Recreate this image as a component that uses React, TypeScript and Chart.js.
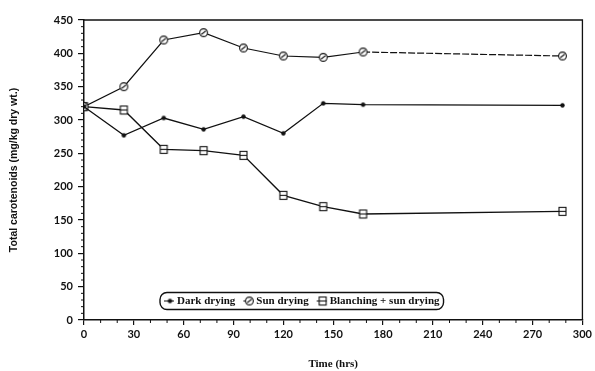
import React, { useEffect, useRef } from "react";
import { Chart, registerables } from "chart.js";

Chart.register(...registerables);

const hours = [0, 24, 48, 72, 96, 120, 144, 168, 288];
const darkDrying = [320, 277, 303, 286, 305, 280, 325, 323, 322];
const sunDrying = [320, 350, 420, 431, 408, 396, 394, 402, 396];
const blanchingSun = [320, 315, 256, 254, 247, 187, 170, 159, 163];
const seriesLabels = ["Dark drying", "Sun drying", "Blanching + sun drying"];
const xTicks = [0, 30, 60, 90, 120, 150, 180, 210, 240, 270, 300];
const yTicks = [0, 50, 100, 150, 200, 250, 300, 350, 400, 450];

function makeMarker(kind: string): HTMLCanvasElement {
  const c = document.createElement("canvas");
  c.width = 11;
  c.height = 11;
  const g = c.getContext("2d")!;
  g.strokeStyle = "#111";
  g.fillStyle = "#fff";
  g.lineWidth = 1.1;
  if (kind === "circle") {
    g.beginPath();
    g.arc(5.5, 5.5, 3.9, 0, Math.PI * 2);
    g.fill();
    g.stroke();
    g.beginPath();
    g.moveTo(3.3, 7.2);
    g.lineTo(7.7, 3.8);
    g.stroke();
  } else if (kind === "square") {
    g.fillRect(2, 1.5, 7, 8);
    g.strokeRect(2, 1.5, 7, 8);
    g.beginPath();
    g.moveTo(2, 5.5);
    g.lineTo(9, 5.5);
    g.stroke();
  } else {
    g.fillStyle = "#111";
    g.beginPath();
    g.arc(5.5, 5.5, 2.2, 0, Math.PI * 2);
    g.fill();
  }
  return c;
}

export default function App() {
  const ref = useRef<HTMLCanvasElement | null>(null);

  useEffect(() => {
    if (!ref.current) return;
    const markers = [makeMarker("dot"), makeMarker("circle"), makeMarker("square")];

    const decor = {
      id: "decor",
      afterDraw(chart: any) {
        const ctx = chart.ctx;
        const a = chart.chartArea;
        const xs = chart.scales.x;
        const ys = chart.scales.y;
        ctx.save();
        ctx.strokeStyle = "#111";
        ctx.lineWidth = 1.3;
        // frame top/right
        ctx.beginPath();
        ctx.moveTo(a.left, a.top);
        ctx.lineTo(a.right, a.top);
        ctx.lineTo(a.right, a.bottom);
        ctx.stroke();
        // minor ticks
        ctx.lineWidth = 1;
        for (let v = 0; v <= 300; v += 10) {
          if (v % 30 === 0) continue;
          const px = xs.getPixelForValue(v);
          ctx.beginPath();
          ctx.moveTo(px, a.bottom);
          ctx.lineTo(px, a.bottom + 3);
          ctx.stroke();
        }
        for (let v = 0; v <= 450; v += 10) {
          if (v % 50 === 0) continue;
          const py = ys.getPixelForValue(v);
          ctx.beginPath();
          ctx.moveTo(a.left, py);
          ctx.lineTo(a.left - 3, py);
          ctx.stroke();
        }
        // legend
        ctx.font = "bold 11px 'Liberation Serif'";
        ctx.textBaseline = "middle";
        const cy = a.bottom - 19;
        let x = a.left + 82;
        const boxLeft = x - 6;
        const items = chart.data.datasets.map((d: any) => d.label);
        const positions: number[] = [];
        items.forEach((t: string, i: number) => {
          positions.push(x);
          x += 12 + ctx.measureText(t).width + (i < items.length - 1 ? 9 : 0);
        });
        const boxRight = x + 3;
        ctx.lineWidth = 1.4;
        ctx.beginPath();
        (ctx as any).roundRect(boxLeft, cy - 8.5, boxRight - boxLeft, 17, 7);
        ctx.fillStyle = "#fff";
        ctx.fill();
        ctx.stroke();
        items.forEach((t: string, i: number) => {
          const px = positions[i];
          ctx.lineWidth = 1;
          ctx.beginPath();
          ctx.moveTo(px - 2, cy);
          ctx.lineTo(px + 8, cy);
          ctx.stroke();
          const m = markers[i];
          ctx.drawImage(m, px + 4 - m.width / 2, cy - m.height / 2);
          ctx.fillStyle = "#111";
          ctx.fillText(t, px + 11, cy + 0.5);
        });
        ctx.restore();
      },
    };

    const mk = (data: number[]) => hours.map((h, i) => ({ x: h, y: data[i] }));

    const chart = new Chart(ref.current, {
      type: "line",
      data: {
        datasets: [
          {
            label: seriesLabels[0],
            data: mk(darkDrying),
            borderColor: "#111",
            borderWidth: 1.3,
            pointStyle: markers[0] as any,
            pointRadius: 4,
            tension: 0,
          },
          {
            label: seriesLabels[1],
            data: mk(sunDrying),
            borderColor: "#111",
            borderWidth: 1.2,
            pointStyle: markers[1] as any,
            pointRadius: 5,
            tension: 0,
            segment: {
              borderDash: (c: any) => (c.p0DataIndex === hours.length - 2 ? [7, 2] : undefined),
            },
          },
          {
            label: seriesLabels[2],
            data: mk(blanchingSun),
            borderColor: "#111",
            borderWidth: 1.3,
            pointStyle: markers[2] as any,
            pointRadius: 5,
            tension: 0,
          },
        ],
      },
      options: {
        animation: false,
        responsive: false,
        maintainAspectRatio: false,
        layout: { padding: { top: 20, right: 11, left: 0, bottom: 0 } },
        plugins: { legend: { display: false }, tooltip: { enabled: false } },
        scales: {
          x: {
            type: "linear",
            min: 0,
            max: 300,
            afterFit: (s: any) => {
              s.height = 51;
            },
            afterBuildTicks: (s: any) => {
              s.ticks = xTicks.map((v) => ({ value: v }));
            },
            border: { display: true, color: "#111", width: 1.5 },
            grid: { drawOnChartArea: false, tickLength: 5, color: "#111", lineWidth: 1.2 },
            ticks: {
              color: "#111",
              padding: 3,
              maxRotation: 0,
              autoSkip: false,
              font: { family: "Lato", weight: "bold", size: 11 },
            },
            title: {
              display: true,
              text: "Time (hrs)",
              color: "#111",
              font: { family: "'Liberation Serif'", weight: "bold", size: 11 },
              padding: { top: 0, bottom: 0 },
            },
          },
          y: {
            type: "linear",
            min: 0,
            max: 450,
            afterFit: (s: any) => {
              s.width = 84;
            },
            afterBuildTicks: (s: any) => {
              s.ticks = yTicks.map((v) => ({ value: v }));
            },
            border: { display: true, color: "#111", width: 1.5 },
            grid: { drawOnChartArea: false, tickLength: 6, color: "#111", lineWidth: 1.2 },
            ticks: {
              color: "#111",
              padding: 5,
              autoSkip: false,
              font: { family: "Lato", weight: "bold", size: 11 },
            },
            title: {
              display: true,
              text: "Total carotenoids (mg/kg dry wt.)",
              color: "#111",
              font: { family: "'Liberation Sans'", weight: "bold", size: 10.5 },
              padding: { top: 8, bottom: 0 },
            },
          },
        },
      },
      plugins: [decor],
    });
    return () => chart.destroy();
  }, []);

  return (
    <div style={{ position: "absolute", left: 0, top: 0, width: 595, height: 371, background: "#fff" }}>
      <canvas ref={ref} width={595} height={371} style={{ display: "block" }} />
    </div>
  );
}
